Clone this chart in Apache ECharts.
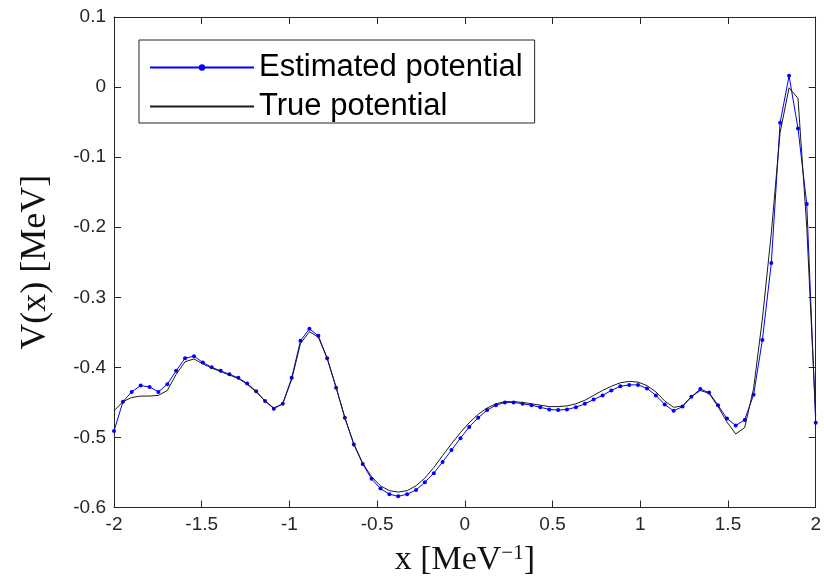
<!DOCTYPE html>
<html>
<head>
<meta charset="utf-8">
<script src="https://cdn.jsdelivr.net/npm/echarts@6/dist/echarts.min.js"></script>
<style>
html,body{margin:0;padding:0;background:#fff;}
#chart{width:824px;height:582px;}
</style>
</head>
<body>
<div id="chart"></div>
<script>
// x positions (80 samples from -2 to 2)
var xs = [-2.000,-1.949,-1.899,-1.848,-1.797,-1.747,-1.696,-1.646,-1.595,-1.544,
  -1.494,-1.443,-1.392,-1.342,-1.291,-1.241,-1.190,-1.139,-1.089,-1.038,
  -0.987,-0.937,-0.886,-0.835,-0.785,-0.734,-0.684,-0.633,-0.582,-0.532,
  -0.481,-0.430,-0.380,-0.329,-0.278,-0.228,-0.177,-0.127,-0.076,-0.025,
  0.025,0.076,0.127,0.177,0.228,0.278,0.329,0.380,0.430,0.481,
  0.532,0.582,0.633,0.684,0.734,0.785,0.835,0.886,0.937,0.987,
  1.038,1.089,1.139,1.190,1.241,1.291,1.342,1.392,1.443,1.494,
  1.544,1.595,1.646,1.696,1.747,1.797,1.848,1.899,1.949,2.000];

// Estimated potential V(x) [MeV]
var estimated = [-0.491,-0.449,-0.435,-0.426,-0.428,-0.435,-0.424,-0.405,-0.387,-0.384,
  -0.393,-0.400,-0.405,-0.410,-0.415,-0.423,-0.434,-0.448,-0.459,-0.452,
  -0.415,-0.362,-0.345,-0.355,-0.387,-0.429,-0.472,-0.510,-0.538,-0.559,
  -0.573,-0.581,-0.584,-0.581,-0.575,-0.564,-0.551,-0.535,-0.518,-0.501,
  -0.485,-0.472,-0.461,-0.454,-0.450,-0.450,-0.452,-0.454,-0.457,-0.460,
  -0.461,-0.460,-0.457,-0.452,-0.446,-0.440,-0.433,-0.427,-0.425,-0.425,
  -0.430,-0.440,-0.453,-0.462,-0.456,-0.442,-0.431,-0.436,-0.454,-0.473,
  -0.483,-0.475,-0.439,-0.361,-0.251,-0.051,0.016,-0.059,-0.167,-0.479];

// True potential V(x) [MeV]
var truePot = [-0.462,-0.449,-0.443,-0.441,-0.441,-0.440,-0.433,-0.410,-0.392,-0.388,
  -0.395,-0.401,-0.406,-0.411,-0.416,-0.424,-0.435,-0.448,-0.458,-0.452,
  -0.417,-0.366,-0.349,-0.357,-0.387,-0.428,-0.472,-0.509,-0.537,-0.556,
  -0.569,-0.576,-0.578,-0.576,-0.569,-0.558,-0.543,-0.526,-0.509,-0.493,
  -0.479,-0.467,-0.458,-0.452,-0.449,-0.449,-0.450,-0.452,-0.454,-0.456,
  -0.456,-0.455,-0.452,-0.447,-0.440,-0.433,-0.427,-0.422,-0.420,-0.421,
  -0.426,-0.435,-0.448,-0.457,-0.455,-0.442,-0.433,-0.437,-0.456,-0.478,
  -0.495,-0.486,-0.430,-0.331,-0.208,-0.065,-0.001,-0.016,-0.200,-0.470];

var xTicks = {min: -2, max: 2, interval: 0.5};
var yTicks = {min: -0.6, max: 0.1, interval: 0.1};
var seriesNames = ['Estimated potential', 'True potential'];

var axisColor = '#262626';
var chart = echarts.init(document.getElementById('chart'), null, {renderer: 'canvas'});

function pairs(ys) { return xs.map(function (x, i) { return [x, ys[i]]; }); }

var tickLabel = {color: axisColor, fontSize: 19, fontFamily: 'Liberation Sans, Arial, sans-serif'};

chart.setOption({
  animation: false,
  backgroundColor: '#fff',
  grid: {left: 114, right: 8, top: 17, bottom: 74, containLabel: false},
  legend: {
    left: 139, top: 40, orient: 'vertical',
    data: [
      {name: seriesNames[0]},
      {name: seriesNames[1], itemStyle: {opacity: 0}}
    ],
    borderColor: axisColor, borderWidth: 1, borderRadius: 0,
    backgroundColor: '#fff',
    padding: [12, 12, 1, 10],
    itemGap: 8,
    itemWidth: 104, itemHeight: 8,
    textStyle: {fontSize: 31, lineHeight: 26, color: '#000', fontFamily: 'Liberation Sans, Arial, sans-serif'}
  },
  xAxis: [{
    type: 'value', position: 'bottom',
    min: xTicks.min, max: xTicks.max, interval: xTicks.interval,
    axisLine: {show: true, onZero: false, lineStyle: {color: axisColor, width: 1}},
    axisTick: {show: true, inside: true, length: 7, lineStyle: {color: axisColor}},
    axisLabel: Object.assign({margin: 8, formatter: function (v) { return String(parseFloat(v.toFixed(1))); }}, tickLabel),
    splitLine: {show: false},
    name: 'x [MeV{sup|−1}]',
    nameLocation: 'middle', nameGap: 35,
    nameTextStyle: {
      fontFamily: 'Liberation Serif, Times New Roman, serif', fontSize: 34, color: '#111',
      rich: {sup: {fontSize: 21, fontFamily: 'Liberation Serif, serif', color: '#111', verticalAlign: 'top', padding: [0, 0, 14, 0]}}
    }
  }, {
    type: 'value', position: 'top',
    min: xTicks.min, max: xTicks.max, interval: xTicks.interval,
    axisLine: {show: true, onZero: false, lineStyle: {color: axisColor, width: 1}},
    axisTick: {show: true, inside: true, length: 7, lineStyle: {color: axisColor}},
    axisLabel: {show: false},
    splitLine: {show: false}
  }],
  yAxis: [{
    type: 'value', position: 'left',
    min: yTicks.min, max: yTicks.max, interval: yTicks.interval,
    axisLine: {show: true, onZero: false, lineStyle: {color: axisColor, width: 1}},
    axisTick: {show: true, inside: true, length: 7, lineStyle: {color: axisColor}},
    axisLabel: Object.assign({margin: 8, formatter: function (v) { return String(parseFloat(v.toFixed(1))); }}, tickLabel),
    splitLine: {show: false},
    name: 'V(x) [MeV]',
    nameLocation: 'middle', nameRotate: 90, nameGap: 60,
    nameTextStyle: {fontFamily: 'Liberation Serif, Times New Roman, serif', fontSize: 36, color: '#111'}
  }, {
    type: 'value', position: 'right',
    min: yTicks.min, max: yTicks.max, interval: yTicks.interval,
    axisLine: {show: true, onZero: false, lineStyle: {color: axisColor, width: 1}},
    axisTick: {show: true, inside: true, length: 7, lineStyle: {color: axisColor}},
    axisLabel: {show: false},
    splitLine: {show: false}
  }],
  series: [{
    name: seriesNames[0], type: 'line', xAxisIndex: 0, yAxisIndex: 0,
    data: pairs(estimated),
    symbol: 'circle', symbolSize: 4, showSymbol: true,
    itemStyle: {color: '#0000ff'},
    lineStyle: {color: '#0000ff', width: 1},
    z: 2
  }, {
    name: seriesNames[1], type: 'line', xAxisIndex: 0, yAxisIndex: 0,
    data: pairs(truePot),
    symbol: 'none', showSymbol: false,
    itemStyle: {color: '#1a1a1a'},
    lineStyle: {color: '#1a1a1a', width: 1},
    z: 3
  }]
});
</script>
</body>
</html>
